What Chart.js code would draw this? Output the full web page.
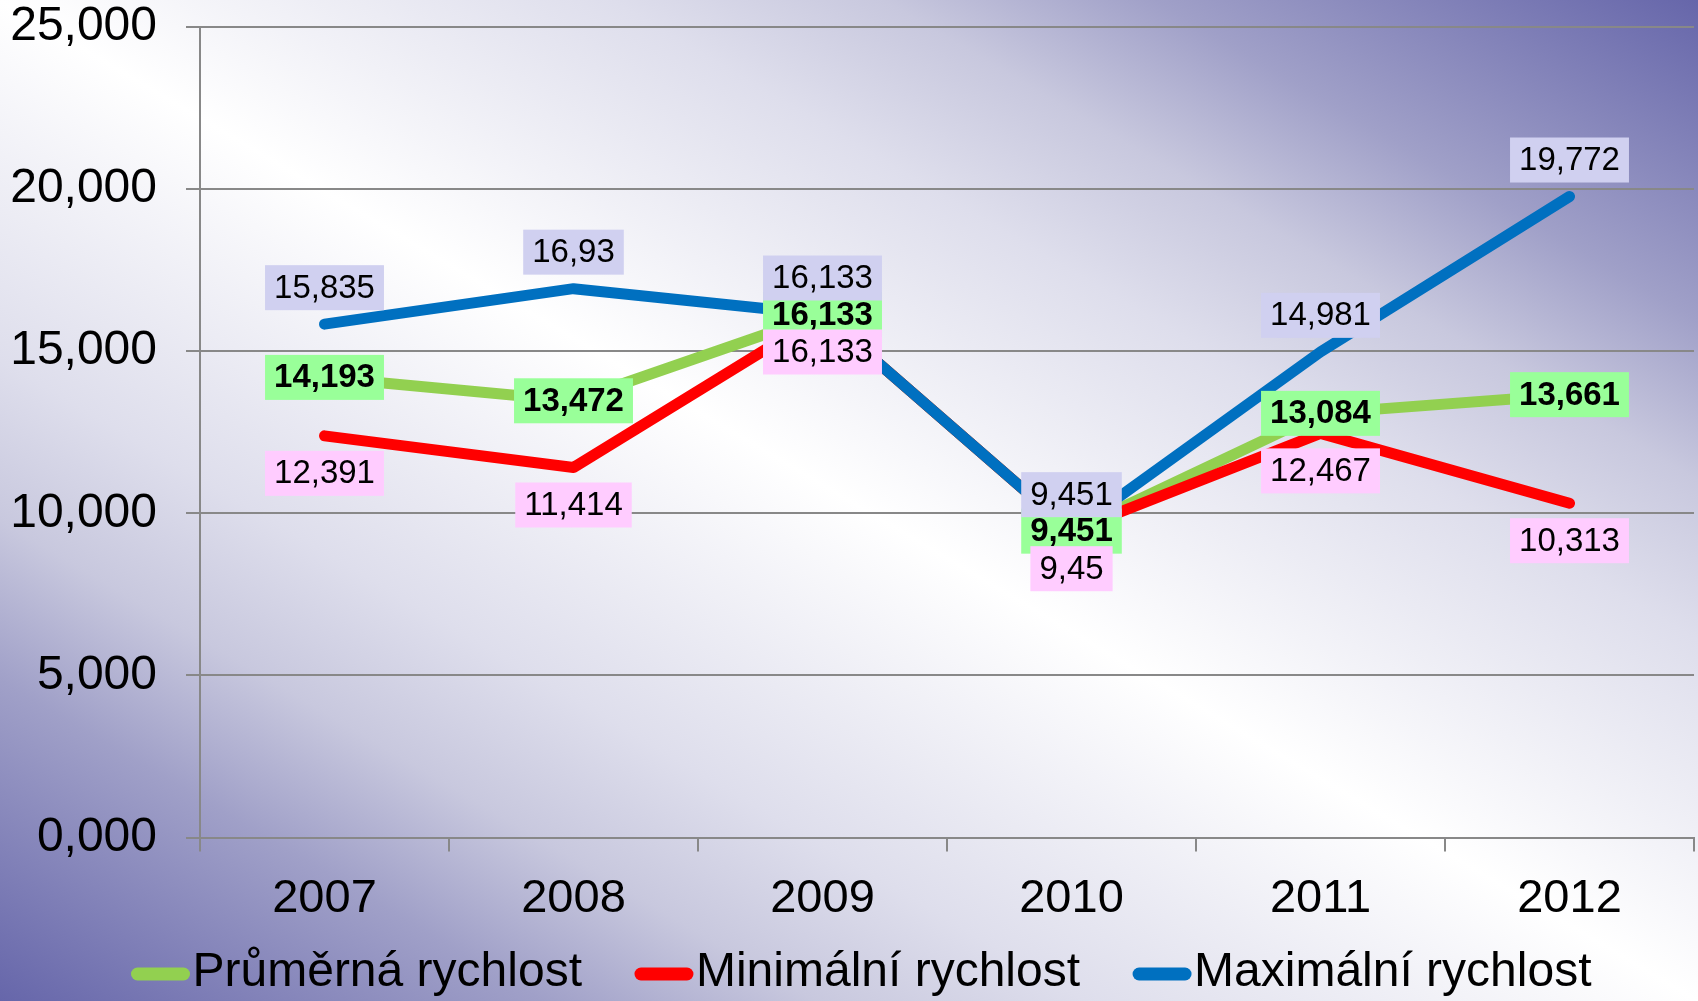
<!DOCTYPE html>
<html>
<head>
<meta charset="utf-8">
<script src="https://cdn.jsdelivr.net/npm/chart.js@4.4.1/dist/chart.umd.min.js"></script>
<style>
  html, body { margin: 0; padding: 0; }
  body {
    width: 1698px; height: 1001px; overflow: hidden;
    background: linear-gradient(to top right,
      rgb(102,102,170) 0%, rgb(160,160,200) 16%, rgb(200,200,222) 24%,
      rgb(222,222,236) 32%, #ffffff 50%,
      rgb(222,222,236) 68%, rgb(200,200,222) 76%, rgb(160,160,200) 84%, rgb(102,102,170) 100%);
  }
  #wrap { position: relative; width: 1698px; height: 1001px; }
</style>
</head>
<body>
<div id="wrap"><canvas id="speedChart"></canvas></div>
<script>
const years = ["2007", "2008", "2009", "2010", "2011", "2012"];
const avgSpeed = [14.193, 13.472, 16.133, 9.451, 13.084, 13.661];
const minSpeed = [12.391, 11.414, 16.133, 9.45, 12.467, 10.313];
const maxSpeed = [15.835, 16.93, 16.133, 9.451, 14.981, 19.772];
const seriesNames = ["Průměrná rychlost", "Minimální rychlost", "Maximální rychlost"];
const yTicks = [0, 5, 10, 15, 20, 25];

const FONT = "'Liberation Sans', Arial, sans-serif";

// label box style per dataset: background, bold, placement
const labelStyles = [
  { bg: "#99ff99", bold: true, place: "center" },
  { bg: "#ffccff", bold: false, place: "below" },
  { bg: "#d0d0f0", bold: false, place: "above" },
];

const dataLabels = {
  id: "dataLabels",
  afterDatasetsDraw(chart) {
    const ctx = chart.ctx;
    const drawOrder = [0, 2, 1];
    ctx.save();
    ctx.textAlign = "center";
    ctx.textBaseline = "middle";
    drawOrder.forEach((di) => {
      const st = labelStyles[di];
      const meta = chart.getDatasetMeta(di);
      ctx.font = (st.bold ? "bold " : "") + "33px " + FONT;
      meta.data.forEach((pt, i) => {
        const txt = String(chart.data.datasets[di].data[i]).replace(".", ",");
        const w = ctx.measureText(txt).width + 18;
        const h = 45;
        let top;
        if (st.place === "above") top = pt.y - 14 - h;
        else if (st.place === "below") top = pt.y + 15;
        else top = pt.y - h / 2;
        ctx.fillStyle = st.bg;
        ctx.fillRect(pt.x - w / 2, top, w, h);
        ctx.fillStyle = "#000";
        ctx.fillText(txt, pt.x, top + h / 2 + 1);
      });
    });
    ctx.restore();
  },
};

const lineLegend = {
  id: "lineLegend",
  afterDraw(chart) {
    const ctx = chart.ctx;
    ctx.save();
    ctx.font = "48px " + FONT;
    ctx.textBaseline = "middle";
    const y = 973;
    const mark = 60, gap = 2, spacing = 52;
    const items = chart.data.datasets.map((ds) => ({
      text: ds.label, color: ds.borderColor, w: ctx.measureText(ds.label).width,
    }));
    let total = items.reduce((s, it) => s + mark + gap + it.w, 0) + spacing * (items.length - 1);
    let x = 861 - total / 2;
    items.forEach((it) => {
      ctx.strokeStyle = it.color;
      ctx.lineWidth = 13;
      ctx.lineCap = "round";
      ctx.beginPath();
      ctx.moveTo(x + 7, y + 1);
      ctx.lineTo(x + mark - 7, y + 1);
      ctx.stroke();
      ctx.fillStyle = "#000";
      ctx.fillText(it.text, x + mark + gap, y);
      x += mark + gap + it.w + spacing;
    });
    ctx.restore();
  },
};

const lineStyle = {
  borderWidth: 11,
  pointRadius: 0,
  pointHoverRadius: 0,
  borderCapStyle: "round",
  borderJoinStyle: "round",
  tension: 0,
  fill: false,
};

new Chart(document.getElementById("speedChart"), {
  type: "line",
  data: {
    labels: years,
    datasets: [
      { label: seriesNames[0], data: avgSpeed, borderColor: "#92d050", order: 3, ...lineStyle },
      { label: seriesNames[1], data: minSpeed, borderColor: "#ff0000", order: 2, ...lineStyle },
      { label: seriesNames[2], data: maxSpeed, borderColor: "#0070c0", order: 1, ...lineStyle },
    ],
  },
  options: {
    responsive: true,
    maintainAspectRatio: false,
    animation: false,
    layout: { padding: { top: 27, right: 4, left: 0, bottom: 55 } },
    plugins: {
      legend: { display: false },
      tooltip: { enabled: false },
    },
    scales: {
      x: {
        offset: true,
        grid: {
          offset: true,
          drawOnChartArea: false,
          drawTicks: true,
          tickLength: 14,
          color: "#888888",
          lineWidth: 2,
        },
        border: { color: "#888888", width: 2 },
        ticks: { color: "#000", padding: 19, font: { family: FONT, size: 47 } },
      },
      y: {
        min: 0,
        max: 25,
        afterFit(scale) {
          scale.width = 200;
          scale.paddingTop = 0;
          scale.paddingBottom = 0;
        },
        afterBuildTicks(scale) { scale.ticks = yTicks.map((v) => ({ value: v })); },
        grid: { color: "#888888", lineWidth: 2, tickLength: 14 },
        border: { color: "#888888", width: 2 },
        ticks: {
          color: "#000",
          padding: 29,
          font: { family: FONT, size: 48 },
          callback: (v) => v.toFixed(3).replace(".", ","),
        },
      },
    },
  },
  plugins: [dataLabels, lineLegend],
});
</script>
</body>
</html>
